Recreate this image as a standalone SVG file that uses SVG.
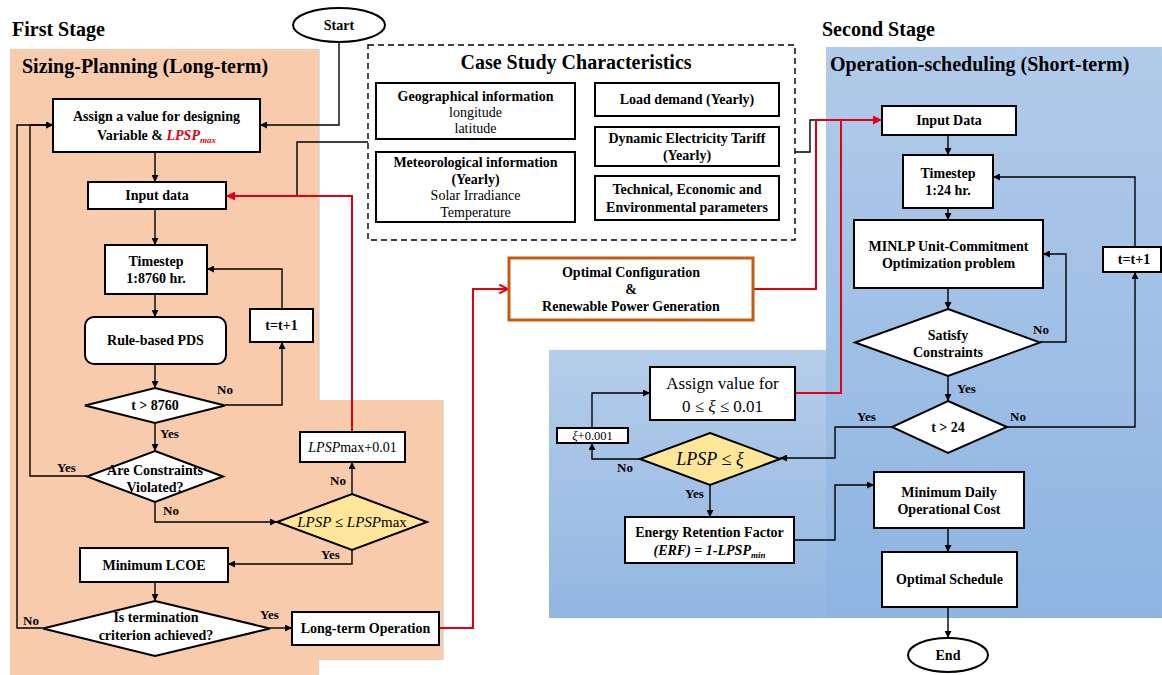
<svg xmlns="http://www.w3.org/2000/svg" width="1162" height="675" viewBox="0 0 1162 675">
  <defs>
    <linearGradient id="blueMain" x1="0" y1="0" x2="0" y2="1">
      <stop offset="0" stop-color="#B1CBE9"/>
      <stop offset="1" stop-color="#8EB4E2"/>
    </linearGradient>
    <linearGradient id="blueSub" x1="0" y1="0" x2="0" y2="1">
      <stop offset="0" stop-color="#B4CDEA"/>
      <stop offset="1" stop-color="#92B6E2"/>
    </linearGradient>
    <marker id="arr" viewBox="0 0 8 8" refX="8" refY="4" markerWidth="7" markerHeight="7" markerUnits="userSpaceOnUse" orient="auto">
      <path d="M0,0 L8,4 L0,8 z" fill="#000"/>
    </marker>
    <marker id="arrRed" viewBox="0 0 8 8" refX="8" refY="4" markerWidth="9" markerHeight="9" markerUnits="userSpaceOnUse" orient="auto">
      <path d="M0,0 L8,4 L0,8 z" fill="#E00010"/>
    </marker>
    <marker id="chevRed" viewBox="0 0 10 10" refX="9" refY="5" markerWidth="11" markerHeight="11" markerUnits="userSpaceOnUse" orient="auto">
      <path d="M1,1 L9,5 L1,9" fill="none" stroke="#E00010" stroke-width="1.8"/>
    </marker>
  </defs>
  <style>
    .box { fill: #fff; stroke: #000; stroke-width: 2; }
    .dia { fill: #fff; stroke: #000; stroke-width: 2; }
    .ydia { fill: #FFE699; stroke: #000; stroke-width: 2; }
    .t { font-family: "Liberation Serif", "Times New Roman", serif; font-weight: bold; font-size: 14px; text-anchor: middle; fill: #000; }
    .n { font-family: "Liberation Serif", "Times New Roman", serif; font-weight: normal; font-size: 14px; text-anchor: middle; fill: #000; }
    .m { font-family: "Liberation Serif", "Times New Roman", serif; font-style: italic; font-size: 15px; text-anchor: middle; fill: #000; }
    .lbl { font-family: "Liberation Serif", "Times New Roman", serif; font-weight: bold; font-size: 13px; fill: #000; }
    .title { font-family: "Liberation Serif", "Times New Roman", serif; font-weight: bold; font-size: 20px; fill: #000; }
    .conn { fill: none; stroke: #000; stroke-width: 1.4; }
    .red { fill: none; stroke: #E00010; stroke-width: 2; }
  </style>

  <!-- stage panels -->
  <g id="panels">
    <path d="M10,49 H319 V400 H443 V660 H319 V675 H10 Z" fill="#F8CBAD"/>
    <path d="M319,49 V400 M443,400 V660" stroke="#D9D2CC" stroke-width="1.5" fill="none"/>
    <rect x="826" y="47" width="336" height="571" fill="url(#blueMain)"/>
    <rect x="549" y="350" width="277" height="268" fill="url(#blueSub)"/>
  </g>

  <!-- headings -->
  <g id="headings">
    <text class="title" x="12" y="36">First Stage</text>
    <text class="title" x="22" y="73">Sizing-Planning (Long-term)</text>
    <text class="title" x="822" y="36">Second Stage</text>
    <text class="title" x="830" y="71">Operation-scheduling (Short-term)</text>
  </g>

  <!-- case study characteristics -->
  <g id="case-study">
    <rect x="368" y="45" width="427" height="195" fill="#fff" stroke="#000" stroke-width="1.4" stroke-dasharray="6,4"/>
    <text class="title" x="576" y="69" text-anchor="middle">Case Study Characteristics</text>
    <g id="geo">
      <rect class="box" x="376" y="83" width="199" height="56"/>
      <text class="t" x="475.5" y="101">Geographical information</text>
      <text class="n" x="475.5" y="117">longitude</text>
      <text class="n" x="475.5" y="133">latitude</text>
    </g>
    <g id="meteo">
      <rect class="box" x="376" y="152" width="199" height="70"/>
      <text class="t" x="475.5" y="167">Meteorological information</text>
      <text class="t" x="475.5" y="184">(Yearly)</text>
      <text class="n" x="475.5" y="200">Solar Irradiance</text>
      <text class="n" x="475.5" y="217">Temperature</text>
    </g>
    <g id="load">
      <rect class="box" x="595" y="83" width="184" height="33"/>
      <text class="t" x="687" y="104">Load demand (Yearly)</text>
    </g>
    <g id="tariff">
      <rect class="box" x="595" y="127" width="184" height="39"/>
      <text class="t" x="687" y="143">Dynamic Electricity Tariff</text>
      <text class="t" x="687" y="160">(Yearly)</text>
    </g>
    <g id="params">
      <rect class="box" x="595" y="176" width="184" height="44"/>
      <text class="t" x="687" y="194">Technical, Economic and</text>
      <text class="t" x="687" y="212">Environmental parameters</text>
    </g>
  </g>

  <!-- connectors -->
  <g id="connectors">
    <path class="conn" d="M339,42 V125 H260" marker-end="url(#arr)"/>
    <path class="conn" d="M155,152 V182" marker-end="url(#arr)"/>
    <path class="conn" d="M155,209 V245" marker-end="url(#arr)"/>
    <path class="conn" d="M155,294 V317" marker-end="url(#arr)"/>
    <path class="conn" d="M155,364 V388" marker-end="url(#arr)"/>
    <path class="conn" d="M225,405 H282 V342" marker-end="url(#arr)"/>
    <path class="conn" d="M282,309 V269 H207" marker-end="url(#arr)"/>
    <path class="conn" d="M155,423 V451" marker-end="url(#arr)"/>
    <path class="conn" d="M87,476 H30 V125 H53" marker-end="url(#arr)"/>
    <path class="conn" d="M155,502 V522 H277" marker-end="url(#arr)"/>
    <path class="conn" d="M352,494 V462" marker-end="url(#arr)"/>
    <path class="conn" d="M352,550 V564 H228" marker-end="url(#arr)"/>
    <path class="conn" d="M155,582 V601" marker-end="url(#arr)"/>
    <path class="conn" d="M43,628 H17 V125 H53" marker-end="url(#arr)"/>
    <path class="conn" d="M270,628 H292" marker-end="url(#arr)"/>
    <path class="conn" d="M368,142 H297 V196"/>
    <path class="conn" d="M795,152 H810 V120 H818"/>
    <path class="red" d="M352,432 V196 H226" marker-end="url(#arrRed)"/>
    <path class="red" d="M439,628 H473 V289 H508" marker-end="url(#chevRed)"/>
    <path class="red" d="M753,289 H816 V120 H882" marker-end="url(#arrRed)"/>
    <path class="red" d="M795,393 H841 V120"/>

    <path class="conn" d="M948,135 V155" marker-end="url(#arr)"/>
    <path class="conn" d="M948,208 V220" marker-end="url(#arr)"/>
    <path class="conn" d="M948,288 V309" marker-end="url(#arr)"/>
    <path class="conn" d="M1040,342 H1066 V254 H1043" marker-end="url(#arr)"/>
    <path class="conn" d="M948,376 V401" marker-end="url(#arr)"/>
    <path class="conn" d="M1007,427 H1135 V272" marker-end="url(#arr)"/>
    <path class="conn" d="M1135,247 V177 H993" marker-end="url(#arr)"/>
    <path class="conn" d="M892,427 H835 V458 H780" marker-end="url(#arr)"/>
    <path class="conn" d="M640,459 H592 V443" marker-end="url(#arr)"/>
    <path class="conn" d="M592,428 V393 H650" marker-end="url(#arr)"/>
    <path class="conn" d="M710,485 V517" marker-end="url(#arr)"/>
    <path class="conn" d="M794,540 H835 V485 H874" marker-end="url(#arr)"/>
    <path class="conn" d="M948,528 V552" marker-end="url(#arr)"/>
    <path class="conn" d="M948,607 V638" marker-end="url(#arr)"/>
  </g>

  <!-- branch labels -->
  <g id="labels">
    <text class="lbl" x="217" y="394">No</text>
    <text class="lbl" x="160" y="438">Yes</text>
    <text class="lbl" x="57" y="472">Yes</text>
    <text class="lbl" x="163" y="515">No</text>
    <text class="lbl" x="330" y="485">No</text>
    <text class="lbl" x="321" y="559">Yes</text>
    <text class="lbl" x="23" y="625">No</text>
    <text class="lbl" x="260" y="619">Yes</text>
    <text class="lbl" x="1033" y="334">No</text>
    <text class="lbl" x="957" y="393">Yes</text>
    <text class="lbl" x="857" y="421">Yes</text>
    <text class="lbl" x="1010" y="421">No</text>
    <text class="lbl" x="617" y="472">No</text>
    <text class="lbl" x="685" y="498">Yes</text>
  </g>

  <!-- first stage nodes -->
  <g id="start">
    <ellipse cx="339" cy="25" rx="46" ry="17" fill="#fff" stroke="#000" stroke-width="2"/>
    <text class="t" x="339" y="30">Start</text>
  </g>
  <g id="assign-design">
    <rect class="box" x="53" y="99" width="207" height="53"/>
    <text class="t" x="156.5" y="121">Assign a value for designing</text>
    <text class="t" x="156.5" y="140">Variable &amp; <tspan fill="#E00010" font-style="italic">LPSP</tspan><tspan fill="#E00010" font-style="italic" font-size="9" dy="3">max</tspan></text>
  </g>
  <g id="input-data">
    <rect class="box" x="88" y="182" width="138" height="27"/>
    <text class="t" x="157" y="200">Input data</text>
  </g>
  <g id="timestep-long">
    <rect class="box" x="105" y="245" width="102" height="49"/>
    <text class="t" x="156" y="266">Timestep</text>
    <text class="t" x="156" y="283">1:8760 hr.</text>
  </g>
  <g id="rule-pds">
    <rect class="box" x="85" y="317" width="141" height="47" rx="9"/>
    <text class="t" x="155.5" y="345">Rule-based PDS</text>
  </g>
  <g id="t-inc-long">
    <rect class="box" x="250" y="309" width="63" height="33"/>
    <text class="t" x="281.5" y="330">t=t+1</text>
  </g>
  <g id="check-8760">
    <polygon class="dia" points="155,388 225,405.5 155,423 85,405.5"/>
    <text class="t" x="155" y="410">t &gt; 8760</text>
  </g>
  <g id="constraints">
    <polygon class="dia" points="155,451 223,476.5 155,502 87,476.5"/>
    <text class="t" x="155" y="475">Are Constraints</text>
    <text class="t" x="155" y="492">Violated?</text>
  </g>
  <g id="lpsp-check">
    <polygon class="ydia" points="352,494 427,522 352,550 277,522"/>
    <text class="m" x="352" y="527"><tspan>LPSP ≤ LPSP</tspan><tspan font-style="normal">max</tspan></text>
  </g>
  <g id="lpsp-inc">
    <rect class="box" x="300" y="432" width="105" height="30"/>
    <text class="n" x="352.5" y="452"><tspan font-style="italic">LPSP</tspan>max+0.01</text>
  </g>
  <g id="min-lcoe">
    <rect class="box" x="80" y="548" width="148" height="34"/>
    <text class="t" x="154" y="570">Minimum LCOE</text>
  </g>
  <g id="termination">
    <polygon class="dia" points="155,601 270,628.5 155,656 43,628.5"/>
    <text class="t" x="156" y="622">Is termination</text>
    <text class="t" x="156" y="640">criterion achieved?</text>
  </g>
  <g id="long-term-op">
    <rect class="box" x="292" y="612" width="147" height="33"/>
    <text class="t" x="365.5" y="633">Long-term Operation</text>
  </g>
  <g id="optimal-config">
    <rect x="509" y="258" width="244" height="62" fill="#fff" stroke="#C55A11" stroke-width="3"/>
    <text class="t" x="631" y="277">Optimal Configuration</text>
    <text class="t" x="631" y="294">&amp;</text>
    <text class="t" x="631" y="311">Renewable Power Generation</text>
  </g>

  <!-- second stage nodes -->
  <g id="input-data-short">
    <rect class="box" x="882" y="106" width="134" height="29"/>
    <text class="t" x="949" y="125">Input Data</text>
  </g>
  <g id="timestep-short">
    <rect class="box" x="903" y="155" width="90" height="53"/>
    <text class="t" x="948" y="178">Timestep</text>
    <text class="t" x="948" y="195">1:24 hr.</text>
  </g>
  <g id="minlp">
    <rect class="box" x="854" y="220" width="189" height="68"/>
    <text class="t" x="948.5" y="251">MINLP Unit-Commitment</text>
    <text class="t" x="948.5" y="268">Optimization problem</text>
  </g>
  <g id="t-inc-short">
    <rect class="box" x="1103" y="247" width="58" height="25"/>
    <text class="t" x="1134" y="264">t=t+1</text>
  </g>
  <g id="satisfy">
    <polygon class="dia" points="948,309 1040,342.5 948,376 855,342.5"/>
    <text class="t" x="948" y="340">Satisfy</text>
    <text class="t" x="948" y="357">Constraints</text>
  </g>
  <g id="check-24">
    <polygon class="dia" points="948,401 1007,427 948,453 892,427"/>
    <text class="t" x="948" y="432">t &gt; 24</text>
  </g>
  <g id="assign-xi">
    <rect class="box" x="650" y="367" width="145" height="53"/>
    <text class="n" style="font-size:17px" x="722.5" y="389">Assign value for</text>
    <text class="n" style="font-size:17px" x="722.5" y="412">0  ≤ <tspan font-style="italic">ξ</tspan>  ≤ 0.01</text>
  </g>
  <g id="xi-inc">
    <rect class="box" x="557" y="428" width="71" height="15"/>
    <text class="n" style="font-size:12.5px" x="592.5" y="440"><tspan font-style="italic">ξ</tspan>+0.001</text>
  </g>
  <g id="lpsp-xi">
    <polygon class="ydia" points="710,433 780,459 710,485 640,459"/>
    <text class="m" style="font-size:18px" x="710" y="465">LPSP ≤ ξ</text>
  </g>
  <g id="erf">
    <rect class="box" x="625" y="517" width="169" height="46"/>
    <text class="t" x="709.5" y="537">Energy Retention Factor</text>
    <text class="t" x="709.5" y="555" font-style="italic">(ERF) = 1-LPSP<tspan font-size="9" dy="3">min</tspan></text>
  </g>
  <g id="min-daily">
    <rect class="box" x="874" y="472" width="150" height="56"/>
    <text class="t" x="949" y="497">Minimum Daily</text>
    <text class="t" x="949" y="514">Operational Cost</text>
  </g>
  <g id="optimal-schedule">
    <rect class="box" x="882" y="552" width="135" height="55"/>
    <text class="t" x="949.5" y="584">Optimal Schedule</text>
  </g>
  <g id="end">
    <ellipse cx="948" cy="655" rx="40" ry="17" fill="#fff" stroke="#000" stroke-width="2"/>
    <text class="t" x="948" y="660">End</text>
  </g>
</svg>
